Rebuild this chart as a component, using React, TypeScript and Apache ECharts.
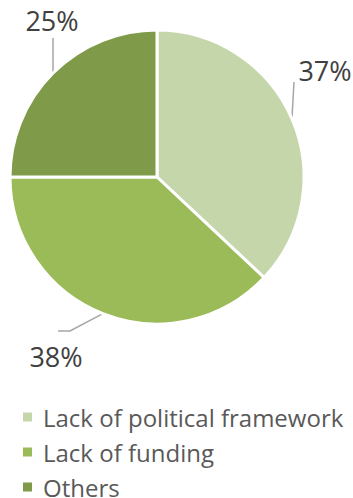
import React, { useEffect, useRef } from "react";
import * as echarts from "echarts";

const categories = ["Lack of political framework", "Lack of funding", "Others"];
const values = [37, 38, 25];
const colors = ["#c5d6ab", "#9bbb59", "#7f9a48"];
const labelSpots: Record<number, { x: number; y: number; line: number[][] }> = {
  0: { x: 325, y: 70, line: [[293, 100], [294, 82]] },
  1: { x: 56, y: 356, line: [[70, 331], [58, 331]] },
  2: { x: 52, y: 20, line: [[53, 55], [53, 38]] },
};

export default function App() {
  const ref = useRef<HTMLDivElement>(null);
  useEffect(() => {
    const chart = echarts.init(ref.current!, null, { renderer: "svg" });
    chart.setOption({
      animation: false,
      legend: {
        orient: "vertical",
        left: 21,
        top: 405,
        height: 200,
        padding: 0,
        itemWidth: 11,
        itemHeight: 11,
        itemGap: 11,
        icon: "rect",
        textStyle: {
          fontFamily: "Open Sans",
          fontSize: 24,
          color: "#595959",
          padding: [0, 0, 0, 5],
        },
        data: categories,
      },
      series: [
        {
          type: "pie",
          center: [157, 177],
          radius: 147,
          startAngle: 90,
          clockwise: true,
          itemStyle: { borderColor: "#fff", borderWidth: 3 },
          label: {
            show: true,
            formatter: "{c}%",
            fontFamily: "Open Sans",
            fontSize: 27,
            color: "#404040",
            width: 80,
            overflow: "none",
          },
          labelLine: { show: true, lineStyle: { color: "#a6a6a6", width: 1.5 } },
          labelLayout: (p: any) => {
            const s = labelSpots[p.dataIndex];
            const start = p.labelLinePoints ? p.labelLinePoints[0] : s.line[0];
            return {
              x: s.x,
              y: s.y,
              align: "center",
              verticalAlign: "middle",
              labelLinePoints: [start, s.line[0], s.line[1]],
            };
          },
          data: categories.map((n, i) => ({
            name: n,
            value: values[i],
            itemStyle: { color: colors[i] },
          })),
        },
      ],
    });
    return () => chart.dispose();
  }, []);
  return (
    <div
      ref={ref}
      style={{ position: "absolute", left: 0, top: 0, width: 353, height: 498 }}
    />
  );
}
